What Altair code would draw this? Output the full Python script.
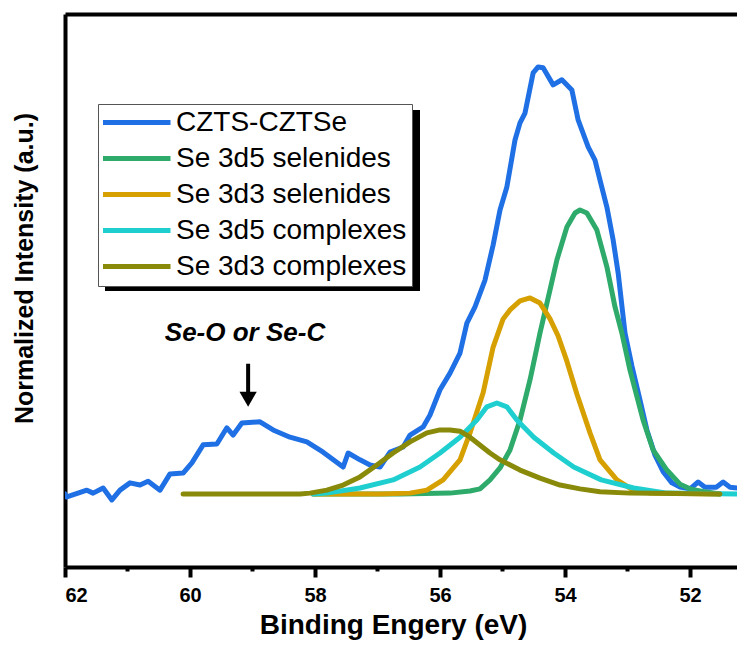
import altair as alt
import pandas as pd

SERIES = ["CZTS-CZTSe", "Se 3d5 selenides", "Se 3d3 selenides",
          "Se 3d5 complexes", "Se 3d3 complexes"]
COLORS = ["#1F6FE5", "#2EAA6A", "#D6A000", "#1FCFD0", "#8A8A0A"]

# CZTS-CZTSe measured spectrum
blue_ev = [62.00, 61.97, 61.65, 61.55, 61.39, 61.25, 61.12, 60.96, 60.80, 60.67,
           60.48, 60.32, 60.11, 59.97, 59.79, 59.57, 59.41, 59.31, 59.17, 58.88,
           58.67, 58.40, 58.13, 57.87, 57.55, 57.47, 57.28, 57.12, 56.96, 56.80,
           56.59, 56.48, 56.27, 56.16, 56.00, 55.84, 55.68, 55.57, 55.44, 55.28,
           55.15, 55.04, 54.93, 54.80, 54.72, 54.64, 54.51, 54.43, 54.35, 54.19,
           54.05, 53.89, 53.79, 53.63, 53.52, 53.44, 53.33, 53.23, 53.15, 53.04,
           52.93, 52.80, 52.69, 52.56, 52.43, 52.29, 52.16, 52.00, 51.87, 51.76,
           51.58, 51.47, 51.36, 51.12]
blue_int = [0.000, -0.007, 0.009, 0.002, 0.014, -0.014, 0.009, 0.026, 0.021, 0.030,
            0.009, 0.047, 0.049, 0.073, 0.115, 0.117, 0.155, 0.138, 0.166, 0.169,
            0.150, 0.133, 0.122, 0.098, 0.063, 0.096, 0.080, 0.068, 0.063, 0.098,
            0.110, 0.138, 0.157, 0.185, 0.244, 0.283, 0.330, 0.400, 0.438, 0.501,
            0.583, 0.665, 0.719, 0.829, 0.869, 0.892, 0.986, 1.000, 0.998, 0.958,
            0.970, 0.946, 0.876, 0.813, 0.782, 0.735, 0.672, 0.595, 0.518, 0.377,
            0.300, 0.220, 0.150, 0.091, 0.052, 0.026, 0.016, 0.012, 0.028, 0.016,
            0.016, 0.028, 0.016, 0.012]

# Se 3d5 selenides
green_ev = [58.03, 56.64, 55.84, 55.52, 55.36, 55.20, 55.04, 54.88, 54.72, 54.56,
            54.40, 54.24, 54.13, 53.97, 53.84, 53.76, 53.65, 53.49, 53.33, 53.20,
            53.09, 52.96, 52.75, 52.59, 52.37, 52.16, 52.00, 51.76, 51.52]
green_int = [0.000, 0.000, 0.002, 0.007, 0.012, 0.033, 0.061, 0.103, 0.173, 0.267,
             0.377, 0.478, 0.548, 0.625, 0.658, 0.665, 0.658, 0.618, 0.532, 0.438,
             0.377, 0.290, 0.173, 0.103, 0.056, 0.023, 0.012, 0.005, 0.000]

# Se 3d3 selenides
orange_ev = [58.03, 56.96, 56.48, 56.21, 55.95, 55.68, 55.52, 55.31, 55.15, 54.99,
             54.88, 54.72, 54.56, 54.40, 54.24, 54.11, 53.97, 53.81, 53.60, 53.44,
             53.17, 52.91, 52.64, 51.52]
orange_int = [0.000, 0.000, 0.002, 0.009, 0.033, 0.080, 0.143, 0.237, 0.344, 0.410,
              0.431, 0.452, 0.459, 0.447, 0.410, 0.370, 0.311, 0.234, 0.143, 0.080,
              0.033, 0.009, 0.002, 0.000]

# Se 3d5 complexes
cyan_ev = [58.03, 57.81, 57.28, 56.75, 56.32, 56.00, 55.68, 55.41, 55.25, 55.09,
           54.93, 54.77, 54.50, 54.18, 53.86, 53.42, 52.90, 52.37, 51.12]
cyan_int = [0.000, 0.002, 0.014, 0.033, 0.063, 0.096, 0.133, 0.173, 0.204, 0.213,
            0.204, 0.173, 0.133, 0.096, 0.063, 0.033, 0.014, 0.002, 0.000]

# Se 3d3 complexes
olive_ev = [60.11, 58.24, 58.08, 57.81, 57.55, 57.28, 57.01, 56.75, 56.48, 56.21,
            56.00, 55.84, 55.68, 55.52, 55.20, 55.04, 54.72, 54.40, 54.08, 53.76,
            53.44, 52.96, 51.52]
olive_int = [0.000, 0.000, 0.002, 0.009, 0.021, 0.040, 0.068, 0.096, 0.122, 0.143,
             0.150, 0.150, 0.147, 0.133, 0.096, 0.080, 0.056, 0.037, 0.021, 0.012,
             0.005, 0.002, 0.000]

MAJOR_TICKS = [62, 60, 58, 56, 54, 52]
MINOR_TICKS = [61, 59, 57, 55, 53]

ANNOT_TEXT = "Se-O or Se-C"
ANNOT_EV = 59.12
ANNOT_I = 0.377
ARROW_EV = 59.07
ARROW_TOP = 0.305
ARROW_END = 0.235
ARROW_HEAD = 0.222

X_DOMAIN = [62, 51.248]
Y_DOMAIN = [-0.171, 1.124]

rows = []
for name, xs, ys in zip(SERIES,
                        [blue_ev, green_ev, orange_ev, cyan_ev, olive_ev],
                        [blue_int, green_int, orange_int, cyan_int, olive_int]):
    for i, (a, b) in enumerate(zip(xs, ys)):
        rows.append({"series": name, "eV": a, "I": b, "k": i})
df = pd.DataFrame(rows)

xscale = alt.Scale(domain=X_DOMAIN, nice=False, zero=False)
yscale = alt.Scale(domain=Y_DOMAIN, nice=False, zero=False)

FONT = "Liberation Sans"

lines = alt.Chart(df).mark_line(strokeWidth=5, clip=True, strokeJoin="round",
                                strokeCap="round").encode(
    x=alt.X("eV:Q", scale=xscale,
            axis=alt.Axis(orient="bottom", values=MAJOR_TICKS, format="d",
                          title="Binding Engery (eV)", grid=False,
                          domainColor="black", domainWidth=4,
                          tickColor="black", tickWidth=4, tickSize=10,
                          labelFont=FONT, labelFontSize=20, labelFontWeight="bold",
                          labelColor="black", labelPadding=8,
                          titleFont=FONT, titleFontSize=28, titleFontWeight="bold",
                          titleColor="black", titleX=328, titleY=58,
                          titleBaseline="middle")),
    y=alt.Y("I:Q", scale=yscale,
            axis=alt.Axis(title="Normalized Intensity (a.u.)", ticks=False,
                          labels=False, grid=False, domainColor="black",
                          domainWidth=4, titleFont=FONT, titleFontSize=25,
                          titleFontWeight="bold", titleColor="black",
                          titlePadding=28, titleY=254)),
    color=alt.Color("series:N",
                    scale=alt.Scale(domain=SERIES, range=COLORS),
                    sort=SERIES,
                    legend=alt.Legend(title=None, orient="none", legendX=33,
                                      legendY=90, symbolType="stroke",
                                      symbolSize=4900, symbolStrokeWidth=5,
                                      symbolOffset=-5,
                                      clipHeight=27, rowPadding=7,
                                      labelFont=FONT, labelFontSize=28,
                                      labelColor="black", labelOffset=3,
                                      labelLimit=0, fillColor="white",
                                      strokeColor="#555555", padding=5)),
    order="k:Q",
)

shadow = alt.Chart(pd.DataFrame({"a": [0]})).mark_rect(color="black").encode(
    x=alt.value(40), x2=alt.value(355), y=alt.value(96), y2=alt.value(277)
)

annot_df = pd.DataFrame({"eV": [ANNOT_EV], "I": [ANNOT_I], "t": [ANNOT_TEXT]})
annot = alt.Chart(annot_df).mark_text(font=FONT, fontSize=26, fontWeight="bold",
                                      fontStyle="italic", color="black",
                                      baseline="middle", align="center").encode(
    x=alt.X("eV:Q", scale=xscale,
            axis=alt.Axis(orient="bottom", values=MINOR_TICKS, labels=False,
                          domain=False, grid=False, tickColor="black",
                          tickWidth=4, tickSize=4, title=None)),
    y=alt.Y("I:Q", scale=yscale),
    text="t:N",
)

arrow_df = pd.DataFrame({"eV": [ARROW_EV], "I": [ARROW_TOP], "I2": [ARROW_END],
                         "H": [ARROW_HEAD]})
arrow = alt.Chart(arrow_df).mark_rule(strokeWidth=4, color="black").encode(
    x=alt.X("eV:Q", scale=xscale,
            axis=alt.Axis(orient="top", ticks=False, labels=False, grid=False,
                          domainColor="black", domainWidth=4, title=None)),
    y=alt.Y("I:Q", scale=yscale),
    y2="I2:Q",
)
head = alt.Chart(arrow_df).mark_point(shape="triangle-down", filled=True,
                                      color="black", size=300, opacity=1).encode(
    x=alt.X("eV:Q", scale=xscale, axis=None),
    y=alt.Y("H:Q", scale=yscale),
)

chart = alt.layer(shadow, lines, annot, arrow, head).resolve_axis(
    x="independent"
).properties(
    width=672, height=553,
    autosize=alt.AutoSizeParams(type="none"),
    padding={"left": 57, "top": 6, "right": 0, "bottom": 76},
    background="white",
).configure_view(stroke=None)

chart.save("out.html", embed_options={"renderer": "svg", "actions": False})
